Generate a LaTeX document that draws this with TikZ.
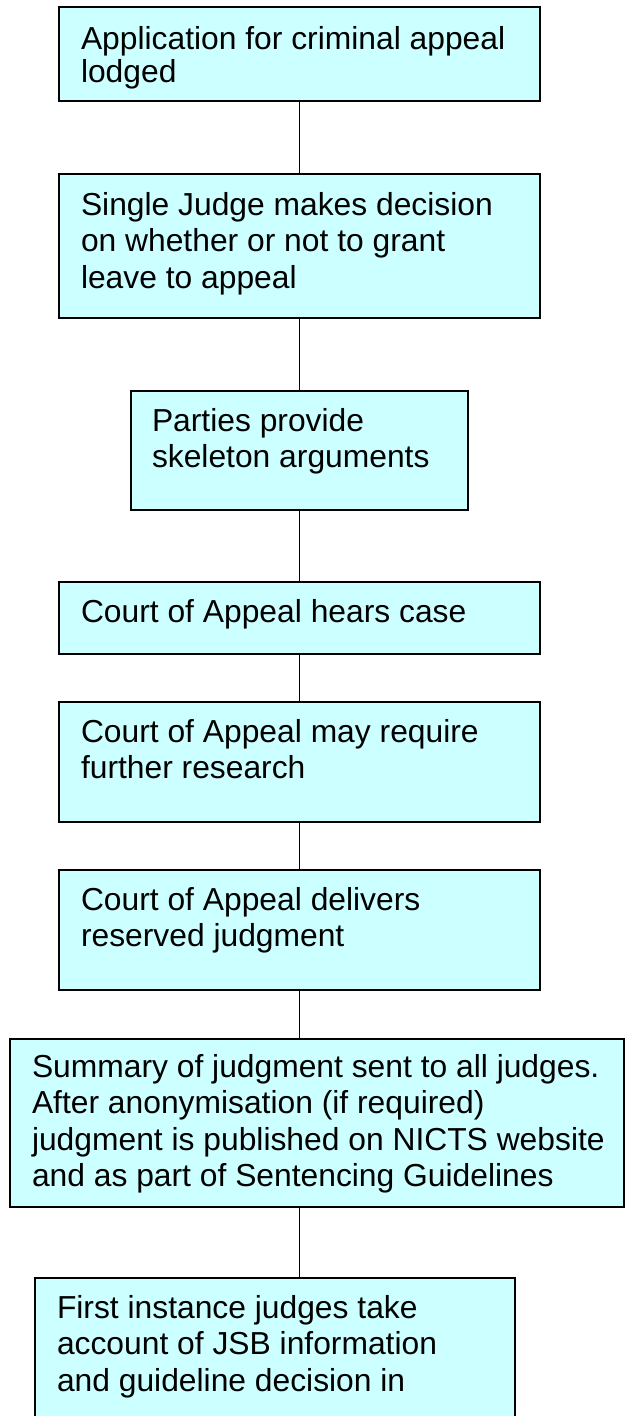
\documentclass[tikz,border=0pt]{standalone}
\usepackage{fontspec}
\setmainfont{Liberation Sans}
\usetikzlibrary{calc}
\definecolor{boxfill}{HTML}{CCFFFF}
\begin{document}
\begin{tikzpicture}[x=1pt,y=-1pt,
  stepbox/.style={draw=black, line width=1.7pt, fill=boxfill, rectangle, inner sep=0pt, outer sep=0pt, anchor=north west},
  steptext/.style={anchor=base west, inner sep=0pt, outer sep=0pt, font=\fontsize{31.8}{36.6}\selectfont},
  link/.style={draw=black, line width=1.2pt}]
\useasboundingbox (0,0) rectangle (625,1416);
\clip (0,0) rectangle (625,1416);
% boxes
\node[stepbox, minimum width=481, minimum height=94] (b1) at (59,7) {};
\node[stepbox, minimum width=481, minimum height=144] (b2) at (59,174) {};
\node[stepbox, minimum width=337, minimum height=119] (b3) at (131,391) {};
\node[stepbox, minimum width=481, minimum height=72] (b4) at (59,582) {};
\node[stepbox, minimum width=481, minimum height=120] (b5) at (59,702) {};
\node[stepbox, minimum width=481, minimum height=120] (b6) at (59,870) {};
\node[stepbox, minimum width=614, minimum height=168] (b7) at (10,1039) {};
\node[stepbox, minimum width=480, minimum height=200] (b8) at (35,1278) {};
% texts
\node[steptext, font=\fontsize{31.8}{33}\selectfont] (t1) at ($(b1.north west)+(22,42)$)
  {\begin{tabular}[t]{@{}l@{}}Application for criminal appeal\\lodged\end{tabular}};
\node[steptext] (t2) at ($(b2.north west)+(22,41)$)
  {\begin{tabular}[t]{@{}l@{}}Single Judge makes decision\\on whether or not to grant\\leave to appeal\end{tabular}};
\node[steptext] (t3) at ($(b3.north west)+(21,40)$)
  {\begin{tabular}[t]{@{}l@{}}Parties provide\\skeleton arguments\end{tabular}};
\node[steptext] (t4) at ($(b4.north west)+(22,40)$)
  {\begin{tabular}[t]{@{}l@{}}Court of Appeal hears case\end{tabular}};
\node[steptext] (t5) at ($(b5.north west)+(22,40)$)
  {\begin{tabular}[t]{@{}l@{}}Court of Appeal may require\\further research\end{tabular}};
\node[steptext] (t6) at ($(b6.north west)+(22,40)$)
  {\begin{tabular}[t]{@{}l@{}}Court of Appeal delivers\\reserved judgment\end{tabular}};
\node[steptext] (t7) at ($(b7.north west)+(22,38)$)
  {\begin{tabular}[t]{@{}l@{}}Summary of judgment sent to all judges.\\After anonymisation (if required)\\judgment is published on NICTS website\\and as part of Sentencing Guidelines\end{tabular}};
\node[steptext] (t8) at ($(b8.north west)+(22,40)$)
  {\begin{tabular}[t]{@{}l@{}}First instance judges take\\account of JSB information\\and guideline decision in\end{tabular}};
% connectors
\draw[link] (b1.south) -- (b2.north);
\draw[link] (b2.south) -- (b3.north);
\draw[link] (b3.south) -- (b4.north);
\draw[link] (b4.south) -- (b5.north);
\draw[link] (b5.south) -- (b6.north);
\draw[link] (b6.south) -- (b6.south |- b7.north);
\draw[link] (b6.south |- b7.south) -- (b6.south |- b8.north);
\end{tikzpicture}
\end{document}
